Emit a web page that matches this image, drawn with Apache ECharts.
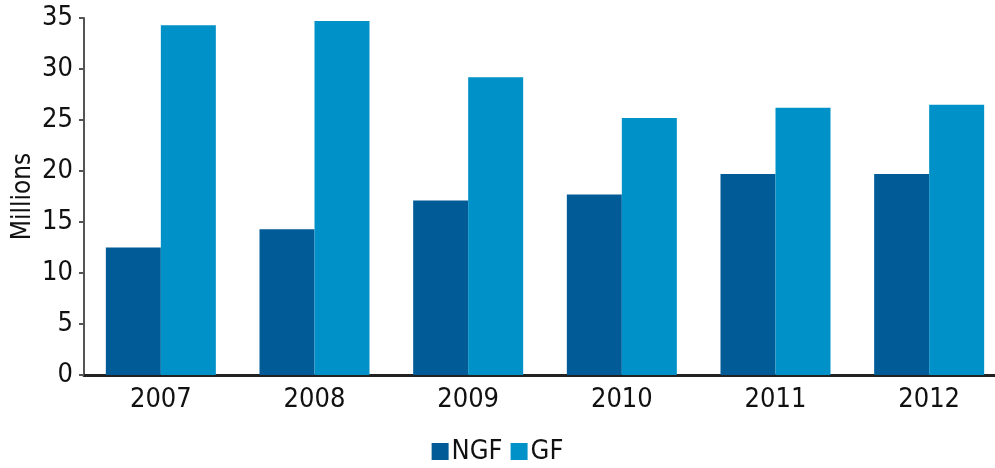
<!DOCTYPE html>
<html>
<head>
<meta charset="utf-8">
<script src="https://cdn.jsdelivr.net/npm/echarts@6/dist/echarts.min.js"></script>
<style>
  html, body { margin: 0; padding: 0; background: #fff; }
  #divChart { width: 995px; height: 468px; }
</style>
</head>
<body>
<div id="divChart"></div>
<script>
// data (millions)
var years = ['2007', '2008', '2009', '2010', '2011', '2012'];
var ngf = [12.5, 14.3, 17.1, 17.7, 19.7, 19.7];
var gf = [34.3, 34.7, 29.2, 25.2, 26.2, 26.5];
var yTicks = { min: 0, max: 35, interval: 5 };

var fontName = "'Liberation Sans Narrow', 'DejaVu Sans Condensed', 'Liberation Sans', sans-serif";

var option = {
  backgroundColor: '#fff',
  color: ['#005b97', '#0091c8'],
  grid: { left: 84, top: 18, bottom: 93, width: 922, containLabel: false, outerBoundsMode: 'none' },
  legend: {
    data: ['NGF', 'GF'],
    bottom: -2,
    left: 'center',
    itemWidth: 17,
    itemHeight: 17,
    itemGap: 8,
    icon: 'rect',
    textStyle: { fontFamily: fontName, fontSize: 27, color: '#111', padding: [0, 0, 0, -2] }
  },
  xAxis: [{
    type: 'category',
    data: years,
    axisLine: { lineStyle: { color: '#222', width: 3 } },
    axisTick: { show: false },
    axisLabel: { fontFamily: fontName, fontSize: 27, color: '#111', margin: 11 }
  }],
  yAxis: [{
    type: 'value',
    min: yTicks.min, max: yTicks.max, interval: yTicks.interval,
    name: 'Millions',
    nameLocation: 'middle',
    nameRotate: 90,
    nameGap: 48,
    nameMoveOverlap: false,
    nameTextStyle: { fontFamily: fontName, fontSize: 26, color: '#111' },
    axisLine: { show: true, lineStyle: { color: '#555', width: 2 } },
    axisTick: { show: true, length: 5, lineStyle: { color: '#555', width: 2 } },
    splitLine: { show: false },
    axisLabel: { fontFamily: fontName, fontSize: 27, color: '#111', margin: 11 }
  }],
  series: [
    { name: 'NGF', type: 'bar', data: ngf, barWidth: 55, barGap: '0%' },
    { name: 'GF', type: 'bar', data: gf, barWidth: 55, barGap: '0%' }
  ]
};

var divChart = echarts.init(document.getElementById('divChart'));
divChart.setOption(option);
</script>
</body>
</html>
